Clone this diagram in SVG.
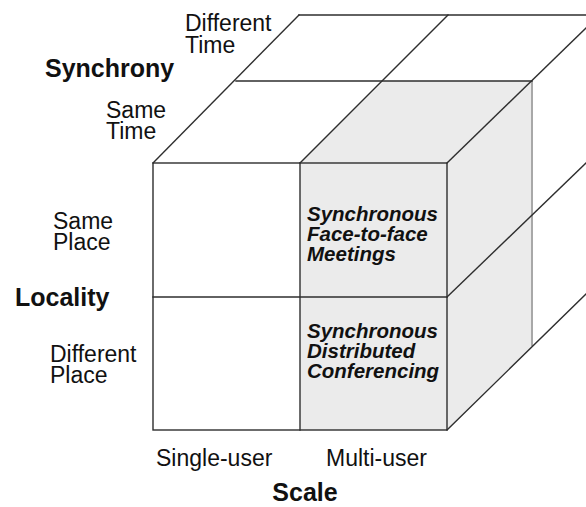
<svg xmlns="http://www.w3.org/2000/svg" width="586" height="507" viewBox="0 0 586 507">
  <style>
    .edge { stroke: #2e2e2e; stroke-width: 1.4; fill: none; stroke-linecap: square; }
    .back { stroke: #a8a8a8; stroke-width: 2; fill: none; }
    .shade { fill: #ebebeb; stroke: none; }
    .lbl { font-family: "Liberation Sans", Arial, Helvetica, sans-serif; font-size: 23px; fill: #111; }
    .axis { font-family: "Liberation Sans", Arial, Helvetica, sans-serif; font-size: 25px; font-weight: bold; fill: #111; }
    .cell { font-family: "Liberation Sans", Arial, Helvetica, sans-serif; font-size: 20.5px; font-weight: bold; font-style: italic; fill: #111; }
  </style>
  <rect width="586" height="507" fill="#ffffff"/>

  <!-- shaded multi-user / same-time block: front, top and right faces -->
  <g id="shaded-block">
    <rect class="shade" x="300" y="163" width="147" height="267"/>
    <polygon class="shade" points="300,163 384,81 532,81 447,163"/>
    <polygon class="shade" points="447,163 532,81 532,346 447,430"/>
  </g>

  <!-- cube edges -->
  <g id="edges">
    <line class="back" x1="532" y1="81" x2="532" y2="346"/>
    <!-- front face grid -->
    <rect class="edge" x="153" y="163" width="294" height="267"/>
    <line class="edge" x1="300" y1="163" x2="300" y2="430"/>
    <line class="edge" x1="153" y1="297" x2="447" y2="297"/>
    <!-- top face -->
    <line class="edge" x1="299" y1="15" x2="586" y2="15"/>
    <line class="edge" x1="236" y1="81" x2="532" y2="81"/>
    <line class="edge" x1="153" y1="163" x2="299" y2="15"/>
    <line class="edge" x1="300" y1="163" x2="448" y2="15"/>
    <line class="edge" x1="447" y1="163" x2="586" y2="28"/>
    <!-- right face -->
    <line class="edge" x1="447" y1="297" x2="586" y2="163"/>
    <line class="edge" x1="447" y1="430" x2="586" y2="294"/>
  </g>

  <!-- axis titles -->
  <g id="axis-synchrony"><text class="axis" x="45" y="77">Synchrony</text></g>
  <g id="axis-locality"><text class="axis" x="15" y="306">Locality</text></g>
  <g id="axis-scale"><text class="axis" x="305" y="501" text-anchor="middle">Scale</text></g>

  <!-- axis values (two-line labels, tight leading) -->
  <g id="different-time">
    <text class="lbl" x="185" y="31">Different<tspan x="185" dy="22">Time</tspan></text>
  </g>
  <g id="same-time">
    <text class="lbl" x="106" y="118">Same<tspan x="106" dy="21">Time</tspan></text>
  </g>
  <g id="same-place">
    <text class="lbl" x="53" y="229">Same<tspan x="53" dy="21">Place</tspan></text>
  </g>
  <g id="different-place">
    <text class="lbl" x="50" y="362">Different<tspan x="50" dy="21">Place</tspan></text>
  </g>
  <g id="single-user"><text class="lbl" x="156" y="466">Single-user</text></g>
  <g id="multi-user"><text class="lbl" x="326" y="466">Multi-user</text></g>

  <!-- cell labels -->
  <g id="face-to-face">
    <text class="cell" x="307" y="221">Synchronous<tspan x="307" dy="20">Face-to-face</tspan><tspan x="307" dy="20">Meetings</tspan></text>
  </g>
  <g id="distributed">
    <text class="cell" x="307" y="338">Synchronous<tspan x="307" dy="20">Distributed</tspan><tspan x="307" dy="20">Conferencing</tspan></text>
  </g>
</svg>
